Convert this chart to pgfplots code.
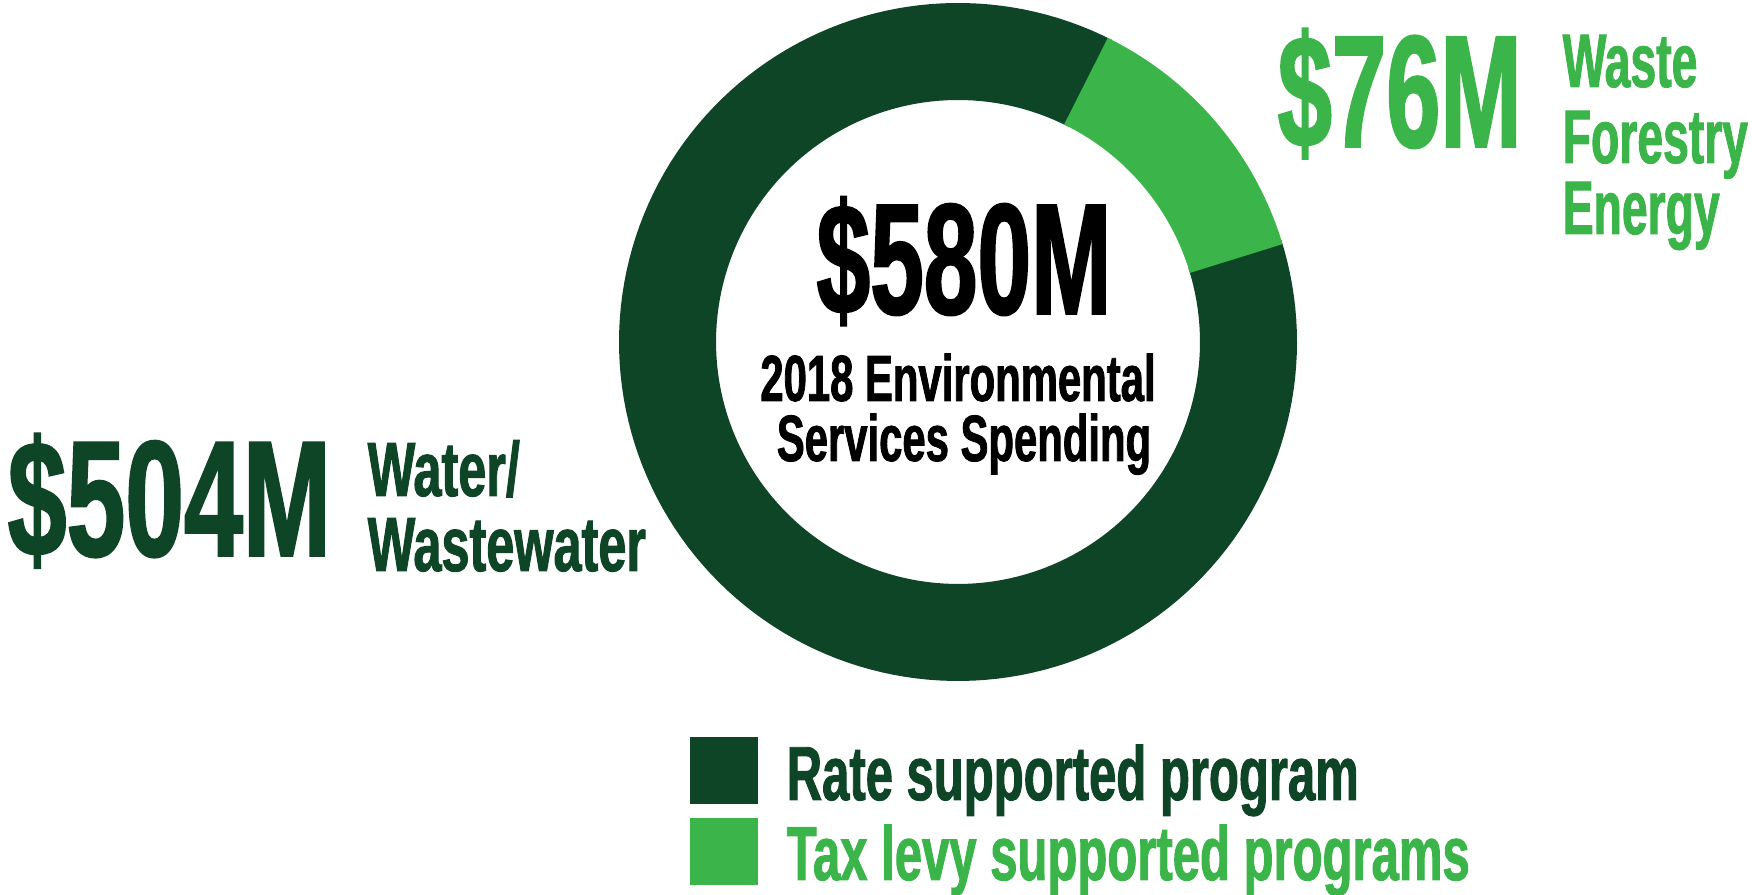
\documentclass[border=0pt]{standalone}
\usepackage{fontspec}
\usepackage{pgfplots}
\usepackage{pgfplotstable}
\pgfplotsset{compat=1.18}
\setmainfont{Liberation Sans}
% condensed heavy face, three widths
\newfontfamily\cond{Liberation Sans}[FakeStretch=0.64, FakeBold=1.2]
\newfontfamily\condn{Liberation Sans}[FakeStretch=0.61, FakeBold=1.2]
\newfontfamily\condw{Liberation Sans}[FakeStretch=0.655, FakeBold=1.2]
\definecolor{darkg}{RGB}{13,69,38}
\definecolor{lightg}{RGB}{59,181,74}

% spending, millions
\pgfplotstableread{
group value
rate  504
tax   76
}\spending

\begin{document}
\begin{tikzpicture}
\pgfplotstablegetelem{0}{value}\of\spending \let\rateval\pgfplotsretval
\pgfplotstablegetelem{1}{value}\of\spending \let\taxval\pgfplotsretval
\pgfmathsetmacro\total{\rateval+\taxval}
% tax slice starts at about 4 o'clock and runs anticlockwise
\pgfmathsetmacro\angA{16.7}
\pgfmathsetmacro\angB{\angA+\taxval/\total*360}
\pgfmathsetmacro\angC{\angA+360}
\pgfmathsetmacro\angBo{\angB-1}
\pgfmathsetmacro\angCo{\angC+1}
\begin{axis}[
    name=donut,
    scale only axis,
    width=17.52cm, height=8.95cm,
    xmin=0, xmax=1752, ymin=0, ymax=895,
    hide axis, clip=false,
]
% ring: centre (958,553), mid radius 290.5, width 97
% rate slice drawn a little long, tax slice laid over it
\addplot[darkg, line width=0.97cm, domain=\angBo:\angCo, samples=160, variable=\t]
    ({958+290.5*cos(t)}, {553+290.5*sin(t)});
\addplot[lightg, line width=0.97cm, domain=\angA:\angB, samples=40, variable=\t]
    ({958+290.5*cos(t)}, {553+290.5*sin(t)});

% legend squares
\addplot[fill=darkg, draw=none] coordinates {(690,91) (758,91) (758,158) (690,158)} -- cycle;
\addplot[fill=lightg, draw=none] coordinates {(690,10) (758,10) (758,77) (690,77)} -- cycle;

\begin{scope}[every node/.style={inner sep=0pt}]
% centre
\node[anchor=base] at (axis cs:964,581) {\condn\bfseries\fontsize{45}{48}\selectfont \$580M};
\node[anchor=base, text height=14pt, text depth=2pt] at (axis cs:958,494)
    {\cond\bfseries\fontsize{18.6}{20}\selectfont 2018 Environmental};
\node[anchor=base, text height=14pt, text depth=2pt] at (axis cs:964,434)
    {\cond\bfseries\fontsize{18.6}{20}\selectfont Services Spending};

% left label
\node[anchor=base west, text=darkg] at (axis cs:7,339) {\cond\bfseries\fontsize{47}{50}\selectfont \$504M};
\node[anchor=base west, text=darkg, text height=16pt, text depth=3pt] at (axis cs:367,399)
    {\condw\bfseries\fontsize{21.9}{24}\selectfont Water/};
\node[anchor=base west, text=darkg, text height=16pt, text depth=3pt] at (axis cs:367,324)
    {\condw\bfseries\fontsize{21.9}{24}\selectfont Wastewater};

% right label
\node[anchor=base west, text=lightg] at (axis cs:1277,748) {\condn\bfseries\fontsize{45.5}{50}\selectfont \$76M};
\node[anchor=base west, text=lightg, text height=15pt, text depth=3pt] at (axis cs:1562,808)
    {\condn\bfseries\fontsize{21.6}{24}\selectfont Waste};
\node[anchor=base west, text=lightg, text height=15pt, text depth=3pt] at (axis cs:1562,732)
    {\condn\bfseries\fontsize{21.6}{24}\selectfont Forestry};
\node[anchor=base west, text=lightg, text height=15pt, text depth=3pt] at (axis cs:1562,661)
    {\condn\bfseries\fontsize{21.6}{24}\selectfont Energy};

% legend text
\node[anchor=base west, text=darkg, text height=16pt, text depth=4pt] at (axis cs:786,95)
    {\cond\bfseries\fontsize{21.8}{24}\selectfont Rate supported program};
\node[anchor=base west, text=lightg, text height=16pt, text depth=3pt] at (axis cs:786,15)
    {\cond\bfseries\fontsize{21.8}{24}\selectfont Tax levy supported programs};
\end{scope}
\end{axis}
\pgfresetboundingbox
\useasboundingbox (donut.south west) rectangle (donut.north east);
\end{tikzpicture}
\end{document}
